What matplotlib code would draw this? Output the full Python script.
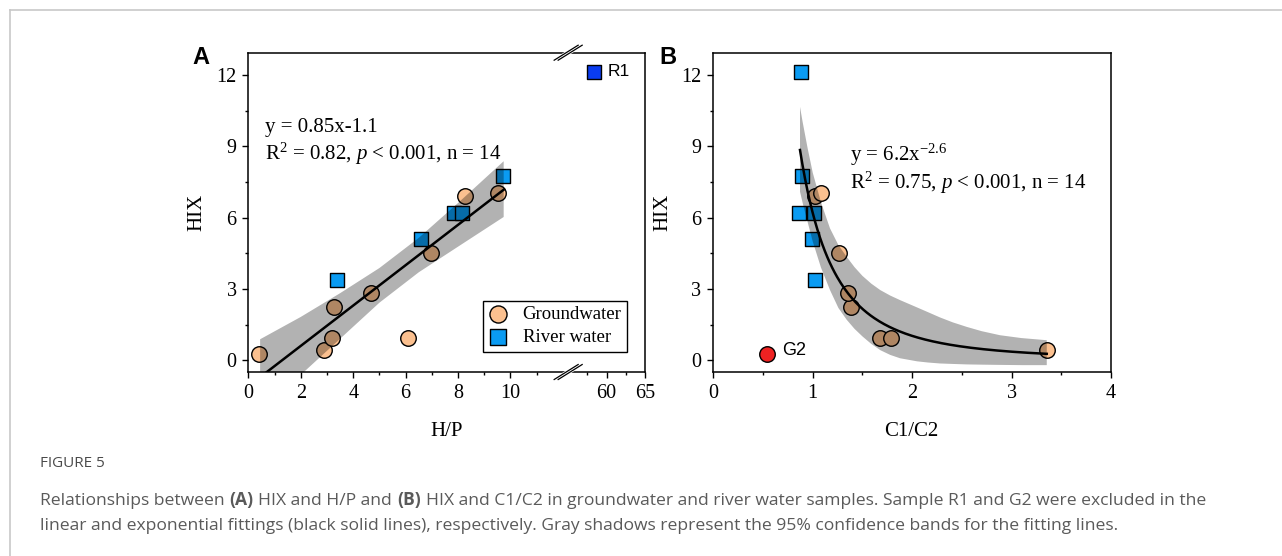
import numpy as np
import matplotlib
matplotlib.use('Agg')
import matplotlib.pyplot as plt
from matplotlib.lines import Line2D

plt.rcParams['font.family'] = ['Liberation Serif', 'DejaVu Serif']
plt.rcParams['mathtext.fontset'] = 'custom'
plt.rcParams['mathtext.rm'] = 'Liberation Serif'
plt.rcParams['mathtext.it'] = 'Liberation Serif:italic'

# groundwater samples (first one is G2)
gw_hix = [0.28, 0.42, 0.95, 2.25, 2.84, 0.95, 4.53, 6.90, 7.02]
gw_hp = [0.42, 2.89, 3.18, 3.27, 4.68, 6.09, 6.97, 8.25, 9.53]
gw_c1c2 = [0.536, 3.353, 1.676, 1.381, 1.351, 1.784, 1.267, 1.020, 1.083]

# river water samples (last one is R1)
rw_hix = [3.37, 5.09, 6.18, 6.18, 7.75, 12.14]
rw_hp = [3.40, 6.59, 7.86, 8.15, 9.72, 58.3]
rw_c1c2 = [1.023, 0.989, 0.862, 1.013, 0.889, 0.878]

# fitted equations shown on the chart
lin_slope, lin_icpt = 0.85, -1.1
pow_a, pow_b = 6.2, -2.6

# 95% confidence bands
band_a_x = [0.45, 2.0, 3.5, 5.0, 6.5, 8.0, 9.74]
band_a_lo = [-2.30, -0.62, 0.90, 2.42, 3.70, 4.78, 6.03]
band_a_hi = [0.88, 1.82, 2.82, 3.88, 5.15, 6.62, 8.38]

band_b_x = [0.872, 0.90, 0.95, 1.00, 1.083, 1.174, 1.258, 1.342, 1.42, 1.50,
            1.59, 1.68, 1.78, 1.878, 2.05, 2.16, 2.28, 2.41, 2.55, 2.70,
            2.884, 3.10, 3.354]
band_b_lo = [7.1, 6.6, 5.8, 5.0, 3.9, 2.95, 2.2, 1.7, 1.32, 1.0,
             0.68, 0.42, 0.22, 0.08, -0.05, -0.10, -0.14, -0.16, -0.18, -0.19,
             -0.20, -0.21, -0.21]
band_b_hi = [10.67, 10.0, 8.9, 7.9, 6.65, 5.55, 4.85, 4.35, 3.92, 3.55,
             3.22, 2.95, 2.72, 2.53, 2.22, 2.02, 1.80, 1.59, 1.40, 1.22,
             1.05, 0.93, 0.84]

gw_color = '#FBC08F'
rw_color = '#0A9BF2'
r1_color = '#0A3CF0'
g2_color = '#EE2222'

# broken x axis for panel A
BRK_LO, BRK_HI, K = 12.2, 55.0, 0.293


def fwd(x):
    x = np.asarray(x, float)
    return np.where(x <= BRK_LO, x,
                    np.where(x >= BRK_HI, BRK_LO + (x - BRK_HI) * K, BRK_LO))


def inv(t):
    t = np.asarray(t, float)
    return np.where(t <= BRK_LO, t, BRK_HI + (t - BRK_LO) / K)


fig = plt.figure(figsize=(12.82, 5.56), dpi=100)
ax_a = fig.add_axes([0.1937, 0.3309, 0.3094, 0.5743])
ax_b = fig.add_axes([0.5564, 0.3309, 0.3102, 0.5743])


def style_axes(ax):
    for s in ax.spines.values():
        s.set_linewidth(1.1)
    ax.tick_params(which='both', direction='out', labelsize=14.5, width=1.0,
                   top=False, right=False, pad=4)
    ax.tick_params(which='major', length=4.5)
    ax.tick_params(which='minor', length=2.5)
    ax.set_ylim(-0.5, 12.95)
    ax.set_yticks([0, 3, 6, 9, 12])
    ax.set_yticks([1.5, 4.5, 7.5, 10.5], minor=True)
    ax.set_ylabel('HIX', fontsize=15)


# ---- panel A ----
ax = ax_a
ax.set_xscale('function', functions=(fwd, inv))
ax.set_xlim(0, 65)
style_axes(ax)
ax.set_xticks([0, 2, 4, 6, 8, 10, 60, 65])
ax.set_xticks([1, 3, 5, 7, 9, 11, 57.5, 62.5], minor=True)
ax.set_xlabel('H/P', fontsize=15)
ax.xaxis.set_label_coords(0.5, -0.156)
ax.yaxis.set_label_coords(-0.107, 0.5)

ax.scatter(gw_hp, gw_hix, s=125, marker='o', facecolor=gw_color,
           edgecolor='black', linewidth=1.0, zorder=2, label='Groundwater')
ax.scatter(rw_hp[:-1], rw_hix[:-1], s=115, marker='s', facecolor=rw_color,
           edgecolor='black', linewidth=1.0, zorder=2, label='River water')
ax.scatter(rw_hp[-1:], rw_hix[-1:], s=110, marker='s', facecolor=r1_color,
           edgecolor='black', linewidth=1.0, zorder=2)
ax.annotate('R1', (rw_hp[-1], rw_hix[-1]), xytext=(10, 0),
            textcoords='offset points', va='center', ha='left',
            fontsize=12.5, family='Liberation Sans')

ax.fill_between(band_a_x, band_a_lo, band_a_hi, facecolor='black',
                alpha=0.3, linewidth=0, zorder=3)
fit_x = np.array([band_a_x[0], band_a_x[-1]])
ax.plot(fit_x, lin_slope * fit_x + lin_icpt, color='black', lw=1.8, zorder=4)

ax.text(0.042, 0.752, 'y = 0.85x-1.1', transform=ax.transAxes,
        fontsize=15, va='baseline')
ax.text(0.042, 0.665, r'R$^2$ = 0.82, $p$ < 0.001, n = 14',
        transform=ax.transAxes, fontsize=15, va='baseline')

leg = ax.legend(loc='lower right', bbox_to_anchor=(0.955, 0.0636),
                borderaxespad=0, fontsize=13.5, fancybox=False,
                edgecolor='black', framealpha=1, handlelength=1.0,
                handletextpad=0.8, borderpad=0.3, labelspacing=0.3,
                scatterpoints=1, markerscale=1.1)
leg.get_frame().set_linewidth(1.0)


def draw_break(ax, xf, yf):
    w, h = 396.7, 319.3
    dx, dy, sep = 12.0 / w, 7.5 / h, 2.0 / w
    ax.plot([xf - dx, xf + dx], [yf - dy, yf + dy], transform=ax.transAxes,
            color='white', lw=3.5, clip_on=False, zorder=10,
            solid_capstyle='butt')
    for s in (-sep, sep):
        ax.plot([xf - dx + s, xf + dx + s], [yf - dy, yf + dy],
                transform=ax.transAxes, color='black', lw=0.9,
                clip_on=False, zorder=11)


brk_frac = float(fwd(BRK_LO)) / float(fwd(65))
draw_break(ax, brk_frac, 1.0)
draw_break(ax, brk_frac, 0.0)

# ---- panel B ----
ax = ax_b
style_axes(ax)
ax.set_xlim(0, 4)
ax.set_xticks([0, 1, 2, 3, 4])
ax.set_xticks([0.5, 1.5, 2.5, 3.5], minor=True)
ax.set_xlabel('C1/C2', fontsize=15)
ax.xaxis.set_label_coords(0.499, -0.156)
ax.yaxis.set_label_coords(-0.104, 0.5)

ax.scatter(gw_c1c2[1:], gw_hix[1:], s=125, marker='o', facecolor=gw_color,
           edgecolor='black', linewidth=1.0, zorder=2)
ax.scatter(rw_c1c2, rw_hix, s=115, marker='s', facecolor=rw_color,
           edgecolor='black', linewidth=1.0, zorder=2)
ax.scatter(gw_c1c2[:1], gw_hix[:1], s=125, marker='o', facecolor=g2_color,
           edgecolor='black', linewidth=1.0, zorder=2)
ax.annotate('G2', (gw_c1c2[0], gw_hix[0]), xytext=(11, 2),
            textcoords='offset points', va='center', ha='left',
            fontsize=13, family='Liberation Sans')

ax.fill_between(band_b_x, band_b_lo, band_b_hi, facecolor='black',
                alpha=0.3, linewidth=0, zorder=3)
curve_x = np.linspace(band_b_x[0], band_b_x[-1], 200)
ax.plot(curve_x, pow_a * curve_x ** pow_b, color='black', lw=1.8, zorder=4)

ax.text(0.344, 0.662, r'y = 6.2x$^{-2.6}$', transform=ax.transAxes,
        fontsize=15, va='baseline')
ax.text(0.344, 0.573, r'R$^2$ = 0.75, $p$ < 0.001, n = 14',
        transform=ax.transAxes, fontsize=15, va='baseline')

# panel letters
fig.text(192 / 1282, 1 - 63.5 / 556, 'A', fontsize=17, fontweight='bold',
         family='Liberation Sans', va='baseline')
fig.text(659 / 1282, 1 - 63.5 / 556, 'B', fontsize=17, fontweight='bold',
         family='Liberation Sans', va='baseline')

# frame lines around the figure block
frame_kw = dict(color='#c8c8c8', lw=1.2, transform=fig.transFigure)
fig.add_artist(Line2D([9.5 / 1282, 1.0], [1 - 9.5 / 556, 1 - 9.5 / 556], **frame_kw))
fig.add_artist(Line2D([9.5 / 1282, 9.5 / 1282], [0, 1 - 9.5 / 556], **frame_kw))

# caption
cap_font = ['Open Sans', 'DejaVu Sans']
cap_col = '#5a5a5a'
cap_size = 12.6
fig.text(40 / 1282, 1 - 467 / 556, 'FIGURE 5', fontsize=11, color='#4a4a4a',
         family=cap_font, va='baseline')
pieces = [('Relationships between', 'normal'), ('(A)', 'bold'),
          ('HIX and H/P and', 'normal'), ('(B)', 'bold'),
          ('HIX and C1/C2 in groundwater and river water samples. Sample R1 '
           'and G2 were excluded in the', 'normal')]
prev = fig.text(40 / 1282, 1 - 505 / 556, pieces[0][0], fontsize=cap_size,
                color=cap_col, family=cap_font, va='baseline')
for txt, wt in pieces[1:]:
    prev = ax_b.annotate(txt, xy=(1, 0), xycoords=prev, xytext=(3.5, 0),
                         textcoords='offset points', va='bottom', ha='left',
                         fontsize=cap_size, color=cap_col, family=cap_font,
                         fontweight=wt)
fig.text(40 / 1282, 1 - 530 / 556,
         'linear and exponential fittings (black solid lines), respectively. '
         'Gray shadows represent the 95% confidence bands for the fitting lines.',
         fontsize=cap_size, color=cap_col, family=cap_font, va='baseline')

fig.savefig('out.png', dpi=100, facecolor='white')
